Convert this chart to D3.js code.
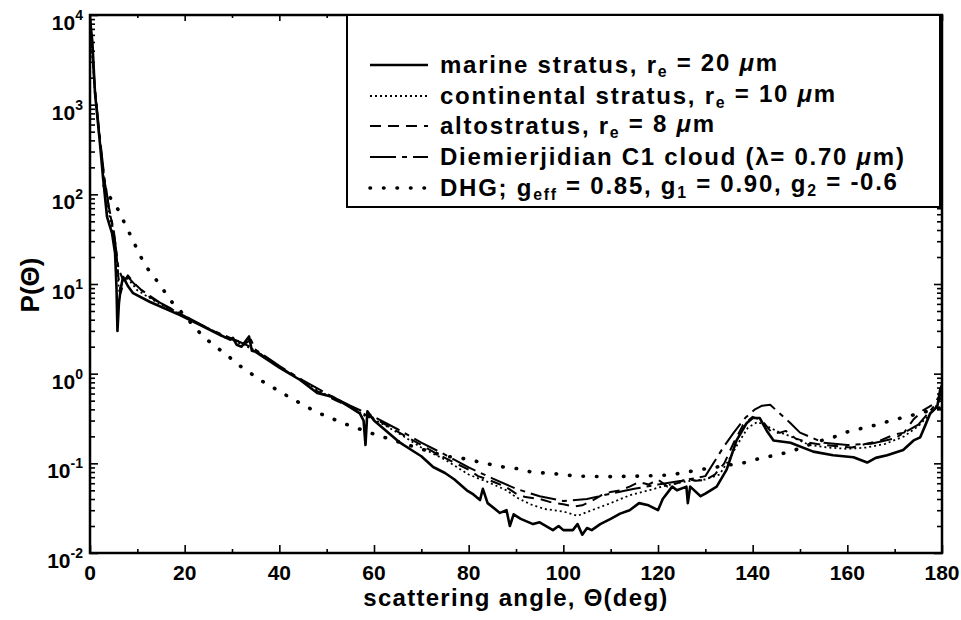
<!DOCTYPE html>
<html>
<head>
<meta charset="utf-8">
<script src="https://cdn.jsdelivr.net/npm/d3@7"></script>
<style>
  html, body { margin: 0; padding: 0; background: #fff; }
  svg { display: block; }
</style>
</head>
<body>
<svg id="chart" width="961" height="620"></svg>
<script>
// Scattering phase functions P(Θ) versus scattering angle (degrees)

const marineAngle = [0, 0.5, 1.06, 2.1, 2.75, 3.6, 4.65, 5.3, 5.6, 5.8, 6.1, 6.5, 7.0, 8.0, 9.1, 12.7, 19, 23.2, 27.5, 29.6, 30.2, 31, 32, 33.6, 34.2, 35, 40.1, 44.4, 48, 51.3, 55, 57, 57.8, 58.2, 58.6, 60, 65.5, 68, 70, 72.5, 75, 77, 79.6, 81, 82.4, 83, 84, 86.6, 88, 88.7, 89.5, 91, 93.6, 95, 97.8, 99, 100, 102, 103, 104, 105, 106, 107.8, 110, 112, 114, 116, 118, 120, 121, 123, 124, 126, 126.3, 126.8, 129, 130, 132.4, 134.5, 136.6, 138.7, 140, 141.5, 143, 144.4, 148, 152.8, 157, 161.3, 164.2, 166, 168.4, 171.8, 174, 175.4, 176.4, 177.5, 179, 179.6, 180];
const marineP = [9000, 5000, 1350, 370, 155, 56, 37, 22, 9, 3.0, 6, 9, 12, 9.5, 7.9, 6.3, 4.5, 3.5, 2.7, 2.4, 2.5, 2.1, 2.0, 2.6, 1.8, 1.75, 1.16, 0.85, 0.61, 0.55, 0.42, 0.36, 0.30, 0.16, 0.38, 0.30, 0.17, 0.14, 0.12, 0.091, 0.078, 0.066, 0.050, 0.045, 0.039, 0.052, 0.036, 0.028, 0.030, 0.020, 0.027, 0.024, 0.021, 0.022, 0.018, 0.020, 0.018, 0.018, 0.021, 0.016, 0.019, 0.018, 0.021, 0.024, 0.0275, 0.030, 0.036, 0.034, 0.030, 0.040, 0.055, 0.050, 0.055, 0.036, 0.055, 0.043, 0.046, 0.055, 0.085, 0.18, 0.28, 0.32, 0.32, 0.23, 0.18, 0.17, 0.135, 0.123, 0.117, 0.102, 0.115, 0.123, 0.141, 0.18, 0.195, 0.26, 0.36, 0.43, 0.66, 0.75];

const continentalAngle = [0, 1, 2, 3, 4, 5, 5.7, 6.2, 7, 8, 10, 14, 19, 24, 28, 32, 35, 40, 45, 50, 55, 58, 60, 65, 70, 75, 80, 84, 88, 90, 93, 96, 100, 103, 106, 110, 114, 118, 122, 126, 130, 133, 135, 137, 139, 141, 143, 145, 148, 152, 156, 160, 164, 168, 172, 175, 178, 180];
const continentalP = [8500, 1400, 420, 140, 62, 33, 15, 8, 11, 11.5, 8.5, 6.3, 4.6, 3.4, 2.6, 2.15, 1.8, 1.2, 0.82, 0.58, 0.43, 0.34, 0.31, 0.22, 0.15, 0.11, 0.075, 0.062, 0.050, 0.042, 0.035, 0.031, 0.029, 0.026, 0.030, 0.036, 0.044, 0.050, 0.057, 0.063, 0.066, 0.075, 0.11, 0.17, 0.25, 0.29, 0.26, 0.23, 0.20, 0.16, 0.15, 0.145, 0.15, 0.165, 0.20, 0.26, 0.38, 0.55];

const altoAngle = [0, 1, 2, 3, 4, 5, 5.5, 6, 6.5, 7, 8, 9.5, 12, 15, 19, 23, 27.5, 30, 33, 34, 35, 40, 44, 48, 52, 55, 57, 58.5, 60, 63, 66, 70, 73, 76, 80, 82, 84, 86, 88, 90, 92, 95, 98, 100, 102, 104, 106, 108, 110, 112, 114, 116, 118, 120, 122, 124, 126, 128, 130, 132, 134, 136, 138, 140, 142, 144, 145.8, 147, 149, 152, 155, 158, 161, 164, 167, 170, 172, 174, 176, 178, 180];
const altoP = [9000, 1500, 450, 150, 70, 38, 25, 12, 8, 10, 12.5, 10, 7.5, 6, 4.7, 3.6, 2.75, 2.4, 2.2, 2.4, 1.8, 1.2, 0.88, 0.64, 0.5, 0.43, 0.38, 0.34, 0.32, 0.26, 0.21, 0.16, 0.13, 0.108, 0.085, 0.072, 0.066, 0.060, 0.054, 0.046, 0.042, 0.040, 0.036, 0.035, 0.033, 0.034, 0.038, 0.044, 0.048, 0.050, 0.055, 0.062, 0.058, 0.066, 0.055, 0.060, 0.067, 0.064, 0.065, 0.075, 0.10, 0.17, 0.27, 0.33, 0.30, 0.22, 0.22, 0.23, 0.19, 0.17, 0.16, 0.155, 0.15, 0.165, 0.18, 0.21, 0.22, 0.31, 0.39, 0.45, 0.6];

const c1Angle = [0, 1, 2, 3, 4, 5, 6, 7, 8, 10, 15, 20, 25, 30, 33, 35, 40, 45, 50, 55, 60, 65, 70, 75, 80, 85, 90, 95, 100, 105, 110, 115, 120, 125, 130, 133.7, 136, 138.4, 140.5, 142, 143.7, 148, 150, 155, 160, 165, 170, 175, 180];
const c1P = [9500, 1600, 480, 160, 72, 40, 15, 11, 12, 9.2, 6.1, 4.4, 3.2, 2.45, 2.1, 1.85, 1.22, 0.84, 0.6, 0.44, 0.33, 0.24, 0.17, 0.125, 0.09, 0.068, 0.052, 0.043, 0.038, 0.040, 0.046, 0.052, 0.058, 0.064, 0.072, 0.148, 0.22, 0.32, 0.40, 0.44, 0.45, 0.28, 0.22, 0.17, 0.16, 0.165, 0.19, 0.27, 0.55];

const dhgAngle = [3, 4.2, 5.9, 8.9, 11.6, 13.7, 17.3, 19.4, 23.6, 26, 28.9, 31.3, 33.8, 36.6, 39.5, 42.3, 45, 48, 53.5, 60.2, 69, 75, 78.2, 84.3, 87.3, 90.5, 93.6, 96.8, 102.9, 109.5, 116, 122.5, 128.9, 134.6, 138.4, 141.1, 144.7, 148, 153.6, 157, 160, 163, 166.2, 169.4, 172.5, 176, 180];
const dhgP = [125, 93, 68, 32, 16.2, 11.7, 6.3, 4.8, 2.7, 2.1, 1.62, 1.26, 1.02, 0.81, 0.66, 0.54, 0.45, 0.37, 0.28, 0.21, 0.15, 0.12, 0.115, 0.098, 0.091, 0.087, 0.079, 0.078, 0.072, 0.071, 0.072, 0.074, 0.085, 0.095, 0.102, 0.112, 0.123, 0.135, 0.174, 0.195, 0.224, 0.245, 0.269, 0.302, 0.331, 0.37, 0.42];

const xTicks = [0, 20, 40, 60, 80, 100, 120, 140, 160, 180];
const yExponents = ["-2", "-1", "0", "1", "2", "3", "4"];

const legendLabels = [
  [["marine stratus, r"], ["e", "sub"], [" = 20 "], ["\u03BC", "it"], ["m"]],
  [["continental stratus, r"], ["e", "sub"], [" = 10 "], ["\u03BC", "it"], ["m"]],
  [["altostratus, r"], ["e", "sub"], [" = 8 "], ["\u03BC", "it"], ["m"]],
  [["Diemierjidian C1 cloud ("], ["\u03BB", ""], ["= 0.70 "], ["\u03BC", "it"], ["m)"]],
  [["DHG; g"], ["eff", "sub"], [" = 0.85, g"], ["1", "sub"], [" = 0.90, g"], ["2", "sub"], [" = -0.6"]]
];

const series = [
  { angle: marineAngle, p: marineP, dash: null, width: 2.6, cap: "butt" },
  { angle: continentalAngle, p: continentalP, dash: "2,3", width: 1.8, cap: "butt" },
  { angle: altoAngle, p: altoP, dash: "11,7", width: 2.0, cap: "butt" },
  { angle: c1Angle, p: c1P, dash: "26,6,5,6", width: 2.0, cap: "butt" },
  { angle: dhgAngle, p: dhgP, dash: "0.5,13", width: 3.6, cap: "round" }
];

const FONT = "'Liberation Sans', Arimo, Arial, 'DejaVu Sans', sans-serif";

const svg = d3.select("#chart")
  .attr("font-family", FONT)
  .attr("font-weight", "bold");
const plotLeft = 90, plotRight = 942, plotTop = 15, plotBottom = 553;

const x = d3.scaleLinear().domain([0, 180]).range([plotLeft, plotRight]);
const y = d3.scaleLog().domain([1e-2, 1e4]).range([plotBottom, plotTop]);

// widen a text with letter-spacing until it spans the target width
function spreadTo(sel, target) {
  const node = sel.node();
  const w = node.getComputedTextLength();
  const n = node.getNumberOfChars();
  if (w > 0 && n > 1 && w < target) {
    sel.attr("letter-spacing", Math.min(2, (target - w) / (n - 1)));
  }
}

// curves
const line = d3.line()
  .x(d => x(d[0]))
  .y(d => y(d[1]));

const plot = svg.append("g");
plot.append("clipPath").attr("id", "clip")
  .append("rect").attr("x", plotLeft).attr("y", plotTop)
  .attr("width", plotRight - plotLeft).attr("height", plotBottom - plotTop);

series.forEach(s => {
  const pts = s.angle.map((a, i) => [a, s.p[i]]);
  plot.append("path")
    .attr("d", line(pts))
    .attr("clip-path", "url(#clip)")
    .attr("fill", "none")
    .attr("stroke", "#000")
    .attr("stroke-width", s.width)
    .attr("stroke-linejoin", "round")
    .attr("stroke-linecap", s.cap)
    .attr("stroke-dasharray", s.dash);
});

// ticks: inward on all four sides
const allY = y.ticks();
const majorY = allY.filter(v => Math.abs(Math.log10(v) - Math.round(Math.log10(v))) < 1e-9);
const minorY = allY.filter(v => !majorY.includes(v));
const minorX = d3.range(10, 180, 20);

function axisLines(axisGen, tx, ty) {
  const g = svg.append("g").attr("transform", `translate(${tx},${ty})`).call(axisGen);
  g.selectAll("text").remove();
  g.select(".domain").remove();
  g.selectAll("line").attr("stroke", "#000").attr("stroke-width", 1.6);
  return g;
}
axisLines(d3.axisBottom(x).tickValues(xTicks).tickSize(-8), 0, plotBottom);
axisLines(d3.axisBottom(x).tickValues(minorX).tickSize(-4), 0, plotBottom);
axisLines(d3.axisTop(x).tickValues(xTicks).tickSize(-6), 0, plotTop);
axisLines(d3.axisTop(x).tickValues(minorX).tickSize(-3), 0, plotTop);
axisLines(d3.axisLeft(y).tickValues(majorY).tickSize(-8), plotLeft, 0);
axisLines(d3.axisLeft(y).tickValues(minorY).tickSize(-5), plotLeft, 0);
axisLines(d3.axisRight(y).tickValues(majorY).tickSize(-8), plotRight, 0);
axisLines(d3.axisRight(y).tickValues(minorY).tickSize(-5), plotRight, 0);

// frame
svg.append("rect")
  .attr("x", plotLeft).attr("y", plotTop)
  .attr("width", plotRight - plotLeft).attr("height", plotBottom - plotTop)
  .attr("fill", "none").attr("stroke", "#000").attr("stroke-width", 2.5);

// x tick labels
svg.append("g").selectAll("text").data(xTicks).join("text")
  .attr("x", d => x(d))
  .attr("y", plotBottom + 27)
  .attr("text-anchor", "middle")
  .attr("font-size", 21)
  .text(d => d);

// y tick labels: 10 with superscript exponent
const yl = svg.append("g").selectAll("text").data(yExponents).join("text")
  .attr("x", 83)
  .attr("y", d => y(Math.pow(10, +d)) + 15)
  .attr("text-anchor", "end")
  .attr("font-size", 21);
yl.append("tspan").text("10");
yl.append("tspan").attr("font-size", 14).attr("dy", -10).text(d => d);

// axis titles
const xTitle = svg.append("text")
  .attr("x", 516).attr("y", 606)
  .attr("text-anchor", "middle")
  .attr("font-size", 24)
  .text("scattering angle, \u0398(deg)");
spreadTo(xTitle, 304);

svg.append("text")
  .attr("transform", "translate(39,285) rotate(-90)")
  .attr("text-anchor", "middle")
  .attr("font-size", 26)
  .text("P(\u0398)");

// legend
const lg = svg.append("g");
lg.append("rect")
  .attr("x", 347).attr("y", plotTop)
  .attr("width", 593).attr("height", 192)
  .attr("fill", "#fff").attr("stroke", "#000").attr("stroke-width", 2);

const rowY = [65, 96, 126, 157, 188];
const legendTexts = [];
series.forEach((s, i) => {
  lg.append("line")
    .attr("x1", 370).attr("x2", 428)
    .attr("y1", rowY[i]).attr("y2", rowY[i])
    .attr("stroke", "#000")
    .attr("stroke-width", s.width)
    .attr("stroke-linecap", s.cap)
    .attr("stroke-dasharray", s.dash);
  const t = lg.append("text")
    .attr("x", 440).attr("y", rowY[i] + 8)
    .attr("font-size", 24);
  const parts = legendLabels[i];
  parts.forEach((part, j) => {
    const ts = t.append("tspan").text(part[0]);
    const isSub = part[1] === "sub";
    const prevSub = j > 0 && parts[j - 1][1] === "sub";
    if (isSub) {
      ts.attr("font-size", "0.66em").attr("dy", "0.24em");
    } else if (prevSub) {
      ts.attr("dy", "-0.24em");
    }
    if (part[1] === "it") ts.attr("font-style", "italic");
  });
  legendTexts.push(t);
});
// one common letter-spacing, set from the longest row
spreadTo(legendTexts[4], 457);
const legendSpacing = legendTexts[4].attr("letter-spacing");
legendTexts.forEach(t => t.attr("letter-spacing", legendSpacing));
</script>
</body>
</html>
